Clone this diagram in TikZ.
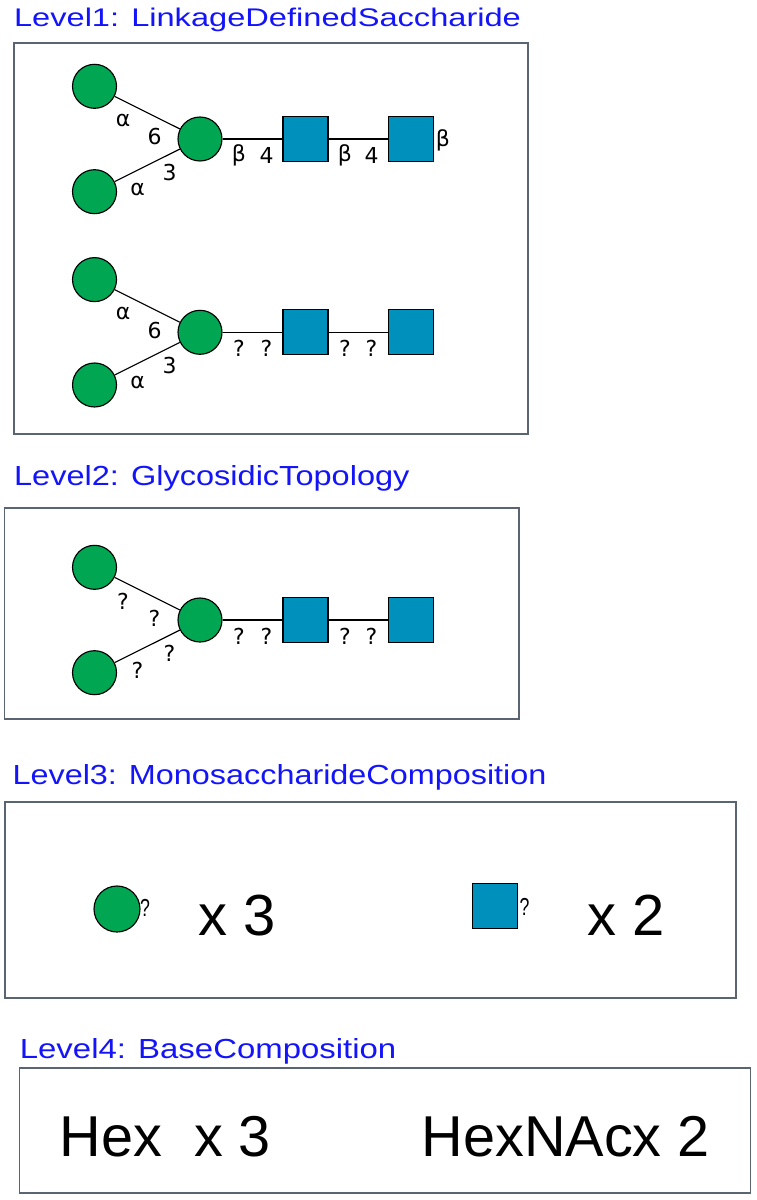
\documentclass[tikz,border=0pt]{standalone}
\usepackage{fontspec}
\setmainfont{Liberation Sans}
\newfontfamily\lnkfont{DejaVu Sans}
\usepackage{graphicx}
\usetikzlibrary{positioning}
\definecolor{hexgreen}{RGB}{0,166,81}
\definecolor{hexnacblue}{RGB}{0,144,188}
\definecolor{titleblue}{RGB}{20,20,250}
\definecolor{boxgray}{RGB}{90,100,115}
\tikzset{
  hex/.style={circle, draw, fill=hexgreen, minimum size=0.88cm, inner sep=0pt},
  hexnac/.style={rectangle, draw, fill=hexnacblue, minimum size=0.9cm, inner sep=0pt},
  lnk/.style={font=\lnkfont\fontsize{12.5}{13}\selectfont, inner sep=0pt},
  lvltitle/.style={anchor=base west, inner sep=0pt, text=titleblue},
  lvlbox/.style={draw=boxgray, line width=1pt},
  bigtext/.style={anchor=base west, inner sep=0pt, font=\fontsize{33}{36}\selectfont},
  anomer/.style={inner sep=0pt, font=\fontsize{14}{14}\selectfont}
}

\begin{document}
\begin{tikzpicture}[x=0.02cm, y=-0.02cm, on grid, line width=0.65pt]
\useasboundingbox (0,0) rectangle (757,1200);

% level titles and frames
\node[lvltitle] (t1) at (13.5,27) {\resizebox{10.14cm}{0.37cm}{Level1: LinkageDefinedSaccharide}};
\node[lvltitle] (t2) at (13.5,485) {\resizebox{7.91cm}{0.4cm}{Level2: GlycosidicTopology}};
\node[lvltitle] (t3) at (12,784.5) {\resizebox{10.68cm}{0.4cm}{Level3: MonosaccharideComposition}};
\node[lvltitle] (t4) at (19.3,1058) {\resizebox{7.53cm}{0.4cm}{Level4: BaseComposition}};
\draw[lvlbox] (14,43) rectangle (528,434);
\draw[lvlbox] (4.5,508) rectangle (519,719);
\draw[lvlbox] (5,802) rectangle (736,998);
\draw[lvlbox] (19.5,1068) rectangle (750.5,1193);

% glycans of level 1 and 2
\foreach \s/\y/\la/\lb/\lc/\ld/\le/\lf/\lg/\lh in
  {1/139/α/6/3/α/β/4/β/4, 2/332.3/α/6/3/α/?/?/?/?, 3/620/?/?/?/?/?/?/?/?}{
  \node[hex] (core\s) at (200,\y) {};
  \node[hex, above left=1.054cm and 2.11cm of core\s] (arma\s) {};
  \node[hex, below left=1.054cm and 2.11cm of core\s] (armb\s) {};
  \node[hexnac, right=2.11cm of core\s] (naca\s) {};
  \node[hexnac, right=2.11cm of naca\s] (nacb\s) {};
  \draw (arma\s) -- (core\s);
  \draw (armb\s) -- (core\s);
  \draw (core\s) -- (naca\s) -- (nacb\s);
  \node[lnk] (la\s) at ([shift={(-77,-18.5)}]core\s) {\la};
  \node[lnk] (lb\s) at ([shift={(-45.5,-2)}]core\s) {\lb};
  \node[lnk] (lc\s) at ([shift={(-30.5,33.5)}]core\s) {\lc};
  \node[lnk] (ld\s) at ([shift={(-62.5,50)}]core\s) {\ld};
  \node[lnk] (le\s) at ([shift={(39,16.5)}]core\s) {\le};
  \node[lnk] (lf\s) at ([shift={(66.5,16)}]core\s) {\lf};
  \node[lnk] (lg\s) at ([shift={(145,16.5)}]core\s) {\lg};
  \node[lnk] (lh\s) at ([shift={(171.5,16)}]core\s) {\lh};
}
\node[lnk] (lend1) at ([shift={(243,1.5)}]core1) {β};

% compositions
\node[hex, minimum size=0.92cm] (hexc) at (117,909) {};
\node[anomer] (hexq) at (145,907.5) {\scalebox{0.72}[1]{?}};
\node[bigtext] (hexn) at (198,935) {x 3};
\node[hexnac] (nacc) at (495,906) {};
\node[anomer] (nacq) at (524.5,907) {\scalebox{0.72}[1]{?}};
\node[bigtext] (nacn) at (587,935) {x 2};
\node[bigtext, font=\fontsize{32.8}{36}\selectfont] (hexb) at (59,1156.7) {Hex\ \ x 3};
\node[bigtext, font=\fontsize{32.8}{36}\selectfont] (hexnacb) at (421,1156.7) {HexNAcx 2};
\end{tikzpicture}
\end{document}
